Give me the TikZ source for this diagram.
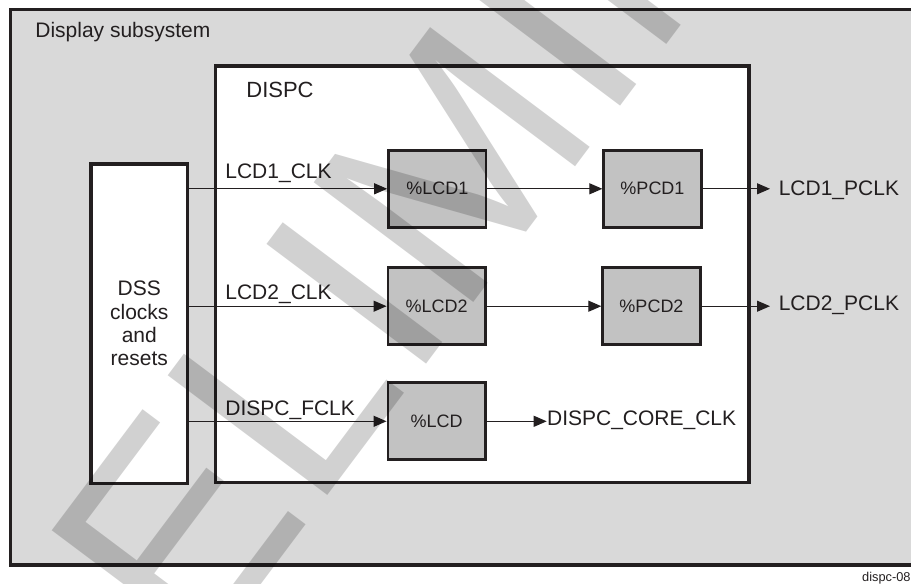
\documentclass[tikz,border=0pt]{standalone}
\usepackage{fontspec}
\setmainfont{Liberation Sans}
\usetikzlibrary{arrows.meta,positioning}
\definecolor{panelgray}{HTML}{D9D9D9}
\definecolor{blockgray}{HTML}{C2C2C2}
\definecolor{ink}{HTML}{231F20}
\tikzset{
  frame/.style={draw=ink, line width=1.8pt},
  clkbox/.style={draw=ink, line width=1.4pt, fill=blockgray, minimum width=48.75pt, minimum height=38.5pt, inner sep=0pt, font=\fontsize{9}{11}\selectfont, text=ink},
  sig/.style={draw=ink, line width=0.55pt, -{Triangle[length=6.5pt,width=5.5pt]}},
  lbl/.style={inner sep=0pt, font=\fontsize{10.5}{11.65}\selectfont, text=ink},
  wmtext/.style={inner sep=0pt, font=\fontsize{145}{145}\selectfont, text=black, text opacity=0.18}
}
\begin{document}
\begin{tikzpicture}[x=0.5pt,y=-0.5pt]
\useasboundingbox (0,0) rectangle (911,584);
\draw[frame, fill=panelgray] (10.3,9.5) rectangle (940,565);
\draw[frame, fill=white] (215.3,66) rectangle (748.7,482.5);
\node[lbl, anchor=base west] (sstitle) at (35,37) {Display subsystem};
\node[lbl, anchor=base west, font=\fontsize{11}{12}\selectfont] (dispctitle) at (246,97) {DISPC};
\node[frame, line width=1.65pt, fill=white, minimum width=48.35pt, minimum height=159.65pt, lbl, align=center] (dss) at (139.3,323.6) {DSS\\clocks\\and\\resets};
\node[clkbox] (lcd1) at (437.3,188.8) {\%LCD1};
\node[clkbox] (pcd1) at (652.5,188.8) {\%PCD1};
\node[clkbox] (lcd2) at (436.7,306.2) {\%LCD2};
\node[clkbox] (pcd2) at (651.5,306.2) {\%PCD2};
\node[clkbox] (lcd) at (436.7,421.3) {\%LCD};
\node[lbl, anchor=base west] (clk1) at (225,178.3) {LCD1\_CLK};
\node[lbl, anchor=base west] (clk2) at (225,299) {LCD2\_CLK};
\node[lbl, anchor=base west] (fclk) at (225,415.7) {DISPC\_FCLK};
\node[lbl, anchor=base west] (pclk1) at (778.4,195) {LCD1\_PCLK};
\node[lbl, anchor=base west] (pclk2) at (778.4,310) {LCD2\_PCLK};
\node[lbl, anchor=base west] (coreclk) at (546.7,425) {DISPC\_CORE\_CLK};
\node[inner sep=0pt, anchor=base east, font=\fontsize{6.4}{7}\selectfont, text=ink] (figid) at (911,581.5) {dispc-08};
\draw[sig] (dss.east |- lcd1.west) -- (lcd1.west);
\draw[sig] (dss.east |- lcd2.west) -- (lcd2.west);
\draw[sig] (dss.east |- lcd.west) -- (lcd.west);
\draw[sig] (lcd1.east) -- (pcd1.west);
\draw[sig] (lcd2.east) -- (pcd2.west);
\draw[sig, shorten >=4.2pt] (pcd1.east) -- (pcd1.east -| pclk1.west);
\draw[sig, shorten >=4.2pt] (pcd2.east) -- (pcd2.east -| pclk2.west);
\draw[sig] (lcd.east) -- (lcd.east -| coreclk.west);
\begin{scope}
\clip (0,0) rectangle (911,584);
\node[wmtext, rotate=53.13, anchor=base west] (wmark) at (-44,992) {PRELIMINARY};
\end{scope}
\end{tikzpicture}
\end{document}
